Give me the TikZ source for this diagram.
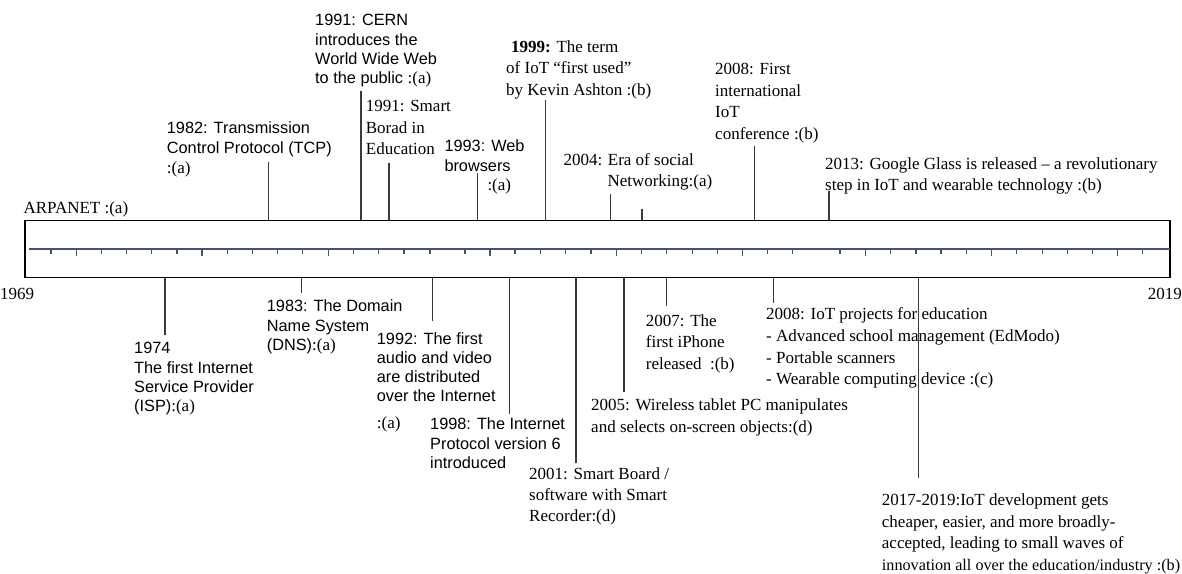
\documentclass[tikz,border=0pt]{standalone}
\usepackage{fontspec}
\setmainfont{Liberation Serif}
\setsansfont{Liberation Sans}

\definecolor{axisblue}{HTML}{47536B}
\definecolor{pingray}{HTML}{3A3A3A}
\newcommand{\sertag}[1]{{\rmfamily\fontsize{17}{19}\selectfont #1}}

\tikzset{
  rmlabel/.style={anchor=north west, inner sep=0pt, align=left, font=\rmfamily\fontsize{17}{#1}\selectfont},
  rmlabel/.default=21.5,
  sflabel/.style={anchor=north west, inner sep=0pt, align=left, font=\sffamily\fontsize{16.3}{#1}\selectfont},
  sflabel/.default=19.3,
  pinline/.style={draw=pingray, line width=1.2pt},
  ruletick/.style={draw=axisblue, line width=1.2pt}
}

\begin{document}
\begin{tikzpicture}[x=1pt,y=-1pt]
\useasboundingbox (0,0) rectangle (1182,573);

% the bar
\node [draw, line width=1.1pt, minimum width=1144pt, minimum height=57pt, inner sep=0pt, anchor=north west] (bar) at (25,220) {};
\draw [line width=2.6pt] (bar.north west) -- (bar.south west);
\draw [line width=2.6pt] (bar.north east) -- (bar.south east);
\draw [draw=axisblue, line width=2pt] ([xshift=4pt]bar.west) -- (bar.east);
\foreach \t in {51,101.7,126.7,151.7,177,227.3,252.3,277.7,302.7,353.3,378.7,404,430,465,515,540.7,565.7,591,641.7,666.7,692.3,717.3,767.5,792.7,840,890.7,916,941,966.7,1016.7,1042.3,1067.3,1092.7,1142.7}
  \draw [ruletick] (\t,248.5) -- ++(0,5.5);
\foreach \t in {76.3,202,328.3,490,616.7,742.7,865.7,991.7,1117.7}
  \draw [ruletick] (\t,248.5) -- ++(0,7.5);

\node [rmlabel] (y1969) at (0,284) {\strut 1969};
\node [rmlabel, anchor=north east] (y2019) at (1182,284.6) {\strut 2019};

% above the bar
\node [rmlabel] (arpanet) at (23.3,198.2) {\strut ARPANET :(a)};
\node [sflabel=20] (tcp) at (166.7,119.3) {\strut 1982: Transmission\\Control Protocol (TCP)\\\sertag{:(a)}};
\node [sflabel=19.2] (cern) at (315,12.3) {\strut 1991: CERN\\introduces the\\World Wide Web\\to the public \sertag{:(a)}};
\node [rmlabel=21.2] (smartedu) at (365.7,96.9) {\strut 1991: Smart\\Borad in\\Education};
\node [sflabel=19.5] (browsers) at (444.3,138) {\strut 1993: Web\\browsers\\\hspace*{43pt}\sertag{:(a)}};
\node [rmlabel=21.3] (iot1999) at (506,37.4) {\strut\hspace*{5pt}\textbf{1999:} The term\\of IoT “first used”\\by Kevin Ashton :(b)};
\node [rmlabel=21] (social) at (563.3,151) {\strut 2004: Era of social\\\hspace*{44pt}Networking:(a)};
\node [rmlabel=21.7] (conf) at (715,59.1) {\strut 2008: First\\international\\IoT\\conference :(b)};
\node [rmlabel=21.7] (glass) at (825,153.8) {\strut 2013: Google Glass is released -- a revolutionary\\step in IoT and wearable technology :(b)};

\coordinate (tcp-pin) at (268.7,161.7);
\coordinate (cern-pin) at (361,90.7);
\coordinate (smartedu-pin) at (389,162.7);
\coordinate (browsers-pin) at (477.7,172.7);
\coordinate (iot1999-pin) at (545.7,100);
\coordinate (social-pin) at (610.7,194);
\coordinate (extra-pin) at (642,208.7);
\coordinate (conf-pin) at (754.3,145.7);
\coordinate (glass-pin) at (829,190.7);
\foreach \p in {tcp,cern,smartedu,browsers,iot1999,social,extra,conf,glass}
  \draw [pinline] (\p-pin) -- (\p-pin |- bar.north);

% below the bar
\node [sflabel] (isp) at (134,340.2) {\strut 1974\\The first Internet\\Service Provider\\(ISP)\sertag{:(a)}};
\node [sflabel=19.5] (dns) at (266.7,298) {\strut 1983: The Domain\\Name System\\(DNS)\sertag{:(a)}};
\node [sflabel=19.1] (media) at (376.7,330.6) {\strut 1992: The first\\audio and video\\are distributed\\over the Internet\\[8pt]\sertag{:(a)}};
\node [sflabel=19.2] (ipv6) at (430,416.3) {\strut 1998: The Internet\\Protocol version 6\\introduced};
\node [rmlabel=20.8] (smartboard) at (529,465.1) {\strut 2001: Smart Board /\\software with Smart\\Recorder:(d)};
\node [rmlabel=21.3] (tablet) at (591,395.8) {\strut 2005: Wireless tablet PC manipulates\\and selects on-screen objects:(d)};
\node [rmlabel=21.3] (iphone) at (645.7,311.4) {\strut 2007: The\\first iPhone\\released~ :(b)};
\node [rmlabel=21.7] (eduproj) at (766,304.5) {\strut 2008: IoT projects for education\\- Advanced school management (EdModo)\\- Portable scanners\\- Wearable computing device :(c)};
\node [rmlabel] (trend) at (881.7,490.6) {\strut 2017-2019:IoT development gets\\cheaper, easier, and more broadly-\\accepted, leading to small waves of\\{\fontsize{16.2}{21.5}\selectfont innovation all over the education/industry :(b)}};

\coordinate (isp-pin) at (165,335.3);
\coordinate (dns-pin) at (301.3,292.7);
\coordinate (media-pin) at (432.7,321.3);
\coordinate (ipv6-pin) at (509.3,414);
\coordinate (smartboard-pin) at (576,463.3);
\coordinate (tablet-pin) at (624,392);
\coordinate (iphone-pin) at (666.7,305.7);
\coordinate (eduproj-pin) at (773.3,303);
\coordinate (trend-pin) at (918.3,478);
\foreach \p in {isp,dns,media,ipv6,smartboard,tablet,iphone,eduproj,trend}
  \draw [pinline] (\p-pin) -- (\p-pin |- bar.south);

\end{tikzpicture}
\end{document}
